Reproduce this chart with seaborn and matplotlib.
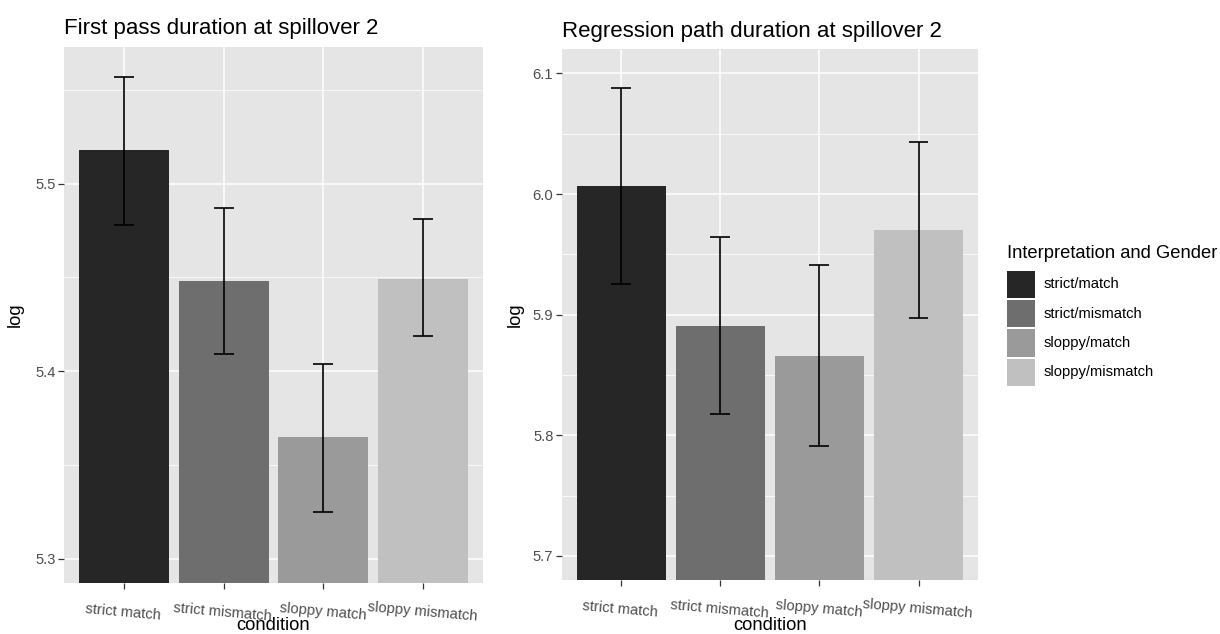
import matplotlib
matplotlib.use("Agg")
import matplotlib.pyplot as plt
from matplotlib.patches import Rectangle
import numpy as np
import pandas as pd
import seaborn as sns

# Conditions and legend labels
conditions = ["strict match", "strict mismatch", "sloppy match", "sloppy mismatch"]
legend_labels = ["strict/match", "strict/mismatch", "sloppy/match", "sloppy/mismatch"]
fills = ["#262626", "#6e6e6e", "#9a9a9a", "#c0c0c0"]

# First pass duration (log), means with interval bounds
fp_mean = [5.518, 5.448, 5.365, 5.449]
fp_low = [5.478, 5.409, 5.325, 5.4185]
fp_high = [5.557, 5.487, 5.404, 5.481]

# Regression path duration (log), means with interval bounds
rp_mean = [6.0066, 5.891, 5.8656, 5.970]
rp_low = [5.925, 5.8174, 5.7907, 5.897]
rp_high = [6.088, 5.9645, 5.941, 6.0432]

sns.set_theme(style="darkgrid")
plt.rcParams["font.family"] = ["Liberation Sans", "DejaVu Sans"]

W, H = 1220, 634
fig = plt.figure(figsize=(W / 100, H / 100), dpi=100)


def px_axes(left, top, right, bottom):
    return fig.add_axes([left / W, 1 - bottom / H, (right - left) / W, (bottom - top) / H])


palette = dict(zip(conditions, fills))


def panel(ax, title, means, lows, highs, lo, hi, majors, minors, ylab_x, xlab_y):
    df = pd.DataFrame({"condition": conditions, "log": means})
    sns.barplot(data=df, x="condition", y="log", hue="condition", palette=palette,
                order=conditions, hue_order=conditions, width=0.9, errorbar=None,
                saturation=1, legend=False, ax=ax, zorder=2,
                linewidth=0, edgecolor="none")
    xs = np.arange(len(conditions))
    ax.vlines(xs, lows, highs, color="black", lw=1.2, zorder=3)
    ax.hlines(lows, xs - 0.1, xs + 0.1, color="black", lw=1.2, zorder=3)
    ax.hlines(highs, xs - 0.1, xs + 0.1, color="black", lw=1.2, zorder=3)

    span = hi - lo
    ax.set_ylim(lo - 0.05 * span, hi + 0.05 * span)
    ax.set_xlim(-0.6, len(conditions) - 0.4)
    ax.set_facecolor("#e5e5e5")
    for s in ax.spines.values():
        s.set_visible(False)
    ax.set_yticks(majors)
    ax.set_yticklabels([f"{v:.1f}" for v in majors])
    ax.set_yticks(minors, minor=True)
    ax.grid(False)
    ax.grid(True, which="major", axis="both", color="white", lw=1.1, zorder=0)
    ax.grid(True, which="minor", axis="y", color="white", lw=0.55, zorder=0)
    ax.set_axisbelow(True)
    ax.tick_params(axis="both", which="major", length=4, width=0.9, color="#333333",
                   labelcolor="#4d4d4d", labelsize=10.6, pad=2, bottom=True, left=True)
    ax.tick_params(axis="y", which="minor", length=0)
    ax.tick_params(axis="x", pad=12)
    for lab in ax.get_xticklabels():
        lab.set_rotation(-5)
        lab.set_rotation_mode("anchor")
        lab.set_ha("center")
        lab.set_va("top")
    ax.set_xlabel("condition", fontsize=13.2, color="black", va="baseline")
    ax.xaxis.set_label_coords(0.5, xlab_y)
    ax.set_ylabel("log", fontsize=13.2, color="black")
    ax.yaxis.set_label_coords(ylab_x, 0.5)
    ax.set_title(title, loc="left", fontsize=16, color="black", pad=9)


ax1 = px_axes(64, 46.7, 483, 583)
panel(ax1, "First pass duration at spillover 2", fp_mean, fp_low, fp_high,
      5.30, 5.56, [5.3, 5.4, 5.5], [5.35, 5.45, 5.55],
      ylab_x=(24 - 64) / 419, xlab_y=(583 - 630) / 536.3)

ax2 = px_axes(561.7, 49.3, 978, 580)
panel(ax2, "Regression path duration at spillover 2", rp_mean, rp_low, rp_high,
      5.70, 6.10, [5.7, 5.8, 5.9, 6.0, 6.1], [5.75, 5.85, 5.95, 6.05],
      ylab_x=(523.5 - 561.7) / 416.3, xlab_y=(580 - 629.5) / 530.7)

# Legend: title, colour keys and labels
leg_x, title_y, key_top, key_size, key_step = 1007, 253, 270.5, 27.5, 29.4
fig.text(leg_x / W, 1 - title_y / H, "Interpretation and Gender", fontsize=13.2,
         color="black", ha="left", va="center")
for i, (c, lab) in enumerate(zip(fills, legend_labels)):
    top = key_top + i * key_step
    fig.add_artist(Rectangle((leg_x / W, 1 - (top + key_size) / H), 28 / W, key_size / H,
                             transform=fig.transFigure, facecolor=c, edgecolor="none"))
    fig.text(1044 / W, 1 - (top + key_size / 2) / H, lab, fontsize=10.6, color="black",
             ha="left", va="center")

fig.savefig("out.png", dpi=100, facecolor="white")
